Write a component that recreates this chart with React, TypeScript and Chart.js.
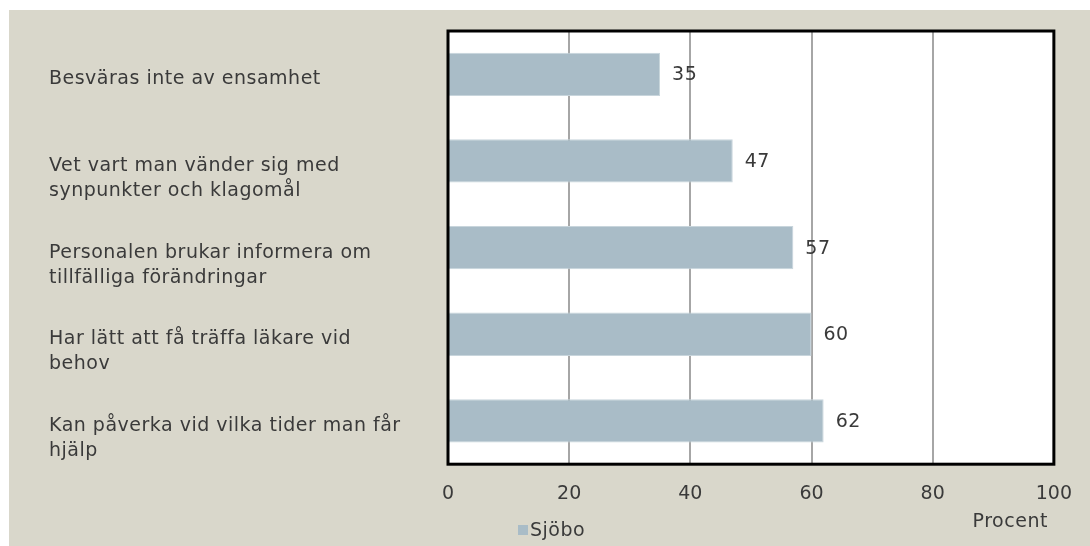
import React, { useEffect, useRef } from "react";
import { Chart, registerables } from "chart.js";

Chart.register(...registerables);

const categories: string[][] = [
  ["Besväras inte av ensamhet"],
  ["Vet vart man vänder sig med", "synpunkter och klagomål"],
  ["Personalen brukar informera om", "tillfälliga förändringar"],
  ["Har lätt att få träffa läkare vid", "behov"],
  ["Kan påverka vid vilka tider man får", "hjälp"],
];
const seriesLabel = "Sjöbo";
const values = [35, 47, 57, 60, 62];
const xMin = 0;
const xMax = 100;
const xStep = 20;
const axisTitle = "Procent";

const FONT = "'DejaVu Sans', sans-serif";
const TEXT = "#3a3a3a";
const BAR = "#a9bcc7";
const BAR_EDGE = "#c8d5dc";
const BG = "#d9d7cb";

const W = 1081;
const H = 536;

const customPlugin = {
  id: "custom",
  beforeDraw(chart: any) {
    const { ctx, chartArea } = chart;
    ctx.save();
    ctx.fillStyle = "#ffffff";
    ctx.fillRect(chartArea.left, chartArea.top, chartArea.right - chartArea.left, chartArea.bottom - chartArea.top);
    ctx.restore();
  },
  afterDatasetsDraw(chart: any) {
    const { ctx, chartArea } = chart;
    const meta = chart.getDatasetMeta(0);
    const yScale = chart.scales.y;
    ctx.save();
    ctx.font = `19px ${FONT}`;
    ctx.fillStyle = TEXT;
    ctx.textBaseline = "middle";
    ctx.textAlign = "left";
    (ctx as any).letterSpacing = "0.5px";
    // value labels
    meta.data.forEach((bar: any, i: number) => {
      ctx.fillText(String(values[i]), bar.x + 12, bar.y + 1);
    });
    // category labels
    categories.forEach((lines, i) => {
      const cy = yScale.getPixelForValue(i);
      lines.forEach((ln, j) => {
        ctx.fillText(ln, 40, cy + 5 + j * 25);
      });
    });
    // legend
    const ds = chart.data.datasets[0];
    ctx.fillStyle = ds.backgroundColor;
    ctx.fillRect(509, 515, 10, 10);
    ctx.fillStyle = TEXT;
    ctx.fillText(ds.label, 521, 521);
    // axis title
    ctx.textAlign = "right";
    ctx.fillText(axisTitle, chartArea.right - 6, 512);
    // plot border
    ctx.lineWidth = 3;
    ctx.strokeStyle = "#000000";
    ctx.strokeRect(chartArea.left, chartArea.top, chartArea.right - chartArea.left, chartArea.bottom - chartArea.top);
    ctx.restore();
  },
};

export default function App() {
  const ref = useRef<HTMLCanvasElement>(null);
  useEffect(() => {
    if (!ref.current) return;
    const chart = new Chart(ref.current, {
      type: "bar",
      data: {
        labels: categories.map((c) => c.join(" ")),
        datasets: [
          {
            label: seriesLabel,
            data: values,
            backgroundColor: BAR,
            borderColor: BAR_EDGE,
            borderWidth: 1,
            categoryPercentage: 0.5,
            barPercentage: 1,
          },
        ],
      },
      options: {
        indexAxis: "y",
        animation: false,
        responsive: false,
        layout: { padding: { left: 439, top: 21, right: 33, bottom: 23 } },
        plugins: {
          legend: { display: false },
          tooltip: { enabled: false },
          title: { display: false },
        },
        scales: {
          y: {
            type: "category",
            display: false,
          },
          x: {
            type: "linear",
            min: xMin,
            max: xMax,
            ticks: {
              stepSize: xStep,
              padding: 18,
              color: TEXT,
              font: { family: FONT, size: 19 },
            },
            grid: { color: "#a6a6a6", lineWidth: 2, drawTicks: false },
            border: { display: false },
            title: { display: false },
          },
        },
      },
      plugins: [customPlugin],
    });
    return () => chart.destroy();
  }, []);
  return (
    <div style={{ position: "absolute", left: 9, top: 10, width: W, height: H, background: BG }}>
      <canvas ref={ref} width={W} height={H} style={{ width: W, height: H, display: "block" }} />
    </div>
  );
}
